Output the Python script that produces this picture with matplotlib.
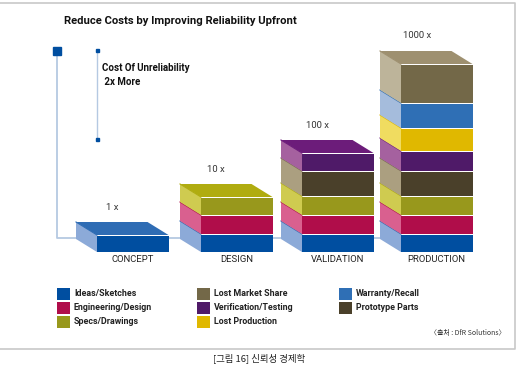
import matplotlib
matplotlib.use('Agg')
import matplotlib.pyplot as plt
from matplotlib.patches import Polygon, Rectangle

# Datos: alto de cada capa, de abajo hacia arriba
categorias = ['CONCEPT', 'DESIGN', 'VALIDATION', 'PRODUCTION']
multiplicadores = ['1 x', '10 x', '100 x', '1000 x']
capas = [
    ['Ideas/Sketches'],
    ['Ideas/Sketches', 'Engineering/Design', 'Specs/Drawings'],
    ['Ideas/Sketches', 'Engineering/Design', 'Specs/Drawings', 'Prototype Parts', 'Verification/Testing'],
    ['Ideas/Sketches', 'Engineering/Design', 'Specs/Drawings', 'Prototype Parts', 'Verification/Testing',
     'Lost Production', 'Warranty/Recall', 'Lost Market Share'],
]
alturas = [
    [17],
    [18, 19, 18],
    [18, 19, 19, 25, 18],
    [18, 19, 19, 25, 20, 23, 25, 39],
]
leyenda = [
    ['Ideas/Sketches', 'Engineering/Design', 'Specs/Drawings'],
    ['Lost Market Share', 'Verification/Testing', 'Lost Production'],
    ['Warranty/Recall', 'Prototype Parts'],
]
titulo = 'Reduce Costs by Improving Reliability Upfront'
nota = ['Cost Of Unreliability', ' 2x More']
fuente = '〈출처 : DfR Solutions〉'
pie = '[그림 16] 신뢰성 경제학'

# frente, arriba, lado
colores = {
    'Ideas/Sketches': ('#004ea0', '#2e6cb4', '#8caad8'),
    'Engineering/Design': ('#b00d4a', '#b00d4a', '#d9608f'),
    'Specs/Drawings': ('#98981c', '#b0ac10', '#cfcb50'),
    'Prototype Parts': ('#4a402a', '#7a6e50', '#ab9f80'),
    'Verification/Testing': ('#4f1a68', '#6c1c7a', '#a5619f'),
    'Lost Production': ('#e0b800', '#e0b800', '#f0dc60'),
    'Warranty/Recall': ('#2f6fb5', '#2f6fb5', '#a5bcdc'),
    'Lost Market Share': ('#736848', '#9e9070', '#bdb49a'),
}

# Geometria en pixeles
x_frente = [97, 201, 302, 401]
ancho = 71.5
dx, dy = 21, 13
base = 252
linea = '#b5c9e2'
letra = 'Roboto'

fig = plt.figure(figsize=(5.2, 3.72), dpi=100)
ax = fig.add_axes([0, 0, 1, 1])
ax.set_xlim(0, 520)
ax.set_ylim(372, 0)
ax.axis('off')

# Marco
ax.plot([0, 515, 515, 0], [2.5, 2.5, 349, 349], color='#c8c8c8', lw=1.2)

# Ejes
ax.plot([57, 57, 395], [51, 238, 238], color=linea, lw=1.3, zorder=1)
ax.plot([97, 97], [51, 139], color=linea, lw=1, zorder=1)
ax.add_patch(Rectangle((53, 47), 8, 8, color='#004ea0', zorder=2))
ax.add_patch(Rectangle((95.5, 49), 3, 3, color='#004ea0', zorder=2))
ax.add_patch(Rectangle((95.5, 137.5), 3, 3, color='#004ea0', zorder=2))

# Pilas
for x, nombres, hs in zip(x_frente, capas, alturas):
    y = base
    for n, h in zip(nombres, hs):
        frente, arriba, lado = colores[n]
        yt = y - h
        ax.add_patch(Polygon([(x - dx, y - dy), (x, y), (x, yt), (x - dx, yt - dy)],
                             closed=True, fc=lado, ec='none', zorder=3))
        ax.plot([x - dx, x], [yt - dy, yt], color=arriba, lw=0.8, zorder=3)
        ax.add_patch(Rectangle((x, yt + 1), ancho, h - 1, fc=frente, ec='none', zorder=4))
        y = yt
    ax.add_patch(Polygon([(x - dx, y - dy), (x - dx + ancho, y - dy), (x + ancho, y), (x, y)],
                         closed=True, fc=arriba, ec='none', zorder=4))

# Textos de las pilas
for x, cat, m, hs, off in zip(x_frente, categorias, multiplicadores, alturas, [0, 0, 1, 1]):
    ax.text(x + ancho / 2, 260, cat, ha='center', va='center', family=letra, fontsize=6.8, color='#222222')
    tope = base - sum(hs) - dy
    ax.text(x - dx + 36 + off, tope - 15, m, ha='center', va='center', family=letra, fontsize=6.8, color='#333333')

ax.text(64, 21, titulo, ha='left', va='center', family=letra, fontweight='bold', fontsize=8.15, color='#111111')
ax.text(102, 68, nota[0], ha='left', va='center', family=letra, fontweight='bold', fontsize=7, color='#111111')
ax.text(102, 82, nota[1], ha='left', va='center', family=letra, fontweight='bold', fontsize=7, color='#111111')

# Leyenda
x_ley = [57, 197, 339]
y_ley = [294, 308, 322]
for x, col in zip(x_ley, leyenda):
    for y, n in zip(y_ley, col):
        ax.add_patch(Rectangle((x, y - 6), 12.5, 12, fc=colores[n][0], ec='none'))
        ax.text(x + 17, y - 0.5, n, ha='left', va='center', family=letra, fontweight='bold', fontsize=6.4, color='#222222')

ax.text(506, 333.5, fuente, ha='right', va='center', family=['Noto Sans CJK KR', 'DejaVu Sans'], fontsize=5, color='#333333')
ax.text(259, 358.5, pie, ha='center', va='center', family=['Noto Sans CJK KR', 'DejaVu Sans'], fontsize=6.8, color='#222222')

fig.savefig('out.png', dpi=100)
